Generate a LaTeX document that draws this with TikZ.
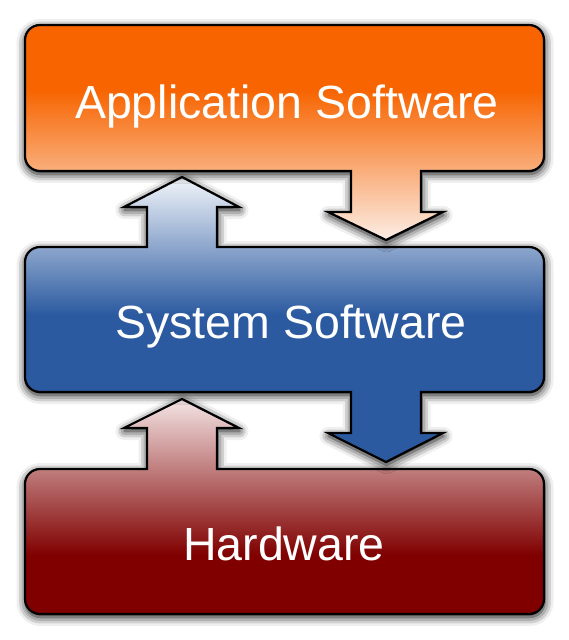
\documentclass[tikz,border=0pt]{standalone}
\usepackage{fontspec}
\setmainfont{Liberation Sans}
\usetikzlibrary{shadows.blur}

\definecolor{apporange}{RGB}{247,100,0}
\definecolor{appfade}{RGB}{252,238,230}
\definecolor{sysblue}{RGB}{43,90,160}
\definecolor{sysfade}{RGB}{242,245,250}
\definecolor{hwred}{RGB}{128,0,0}
\definecolor{hwfade}{RGB}{244,228,228}

\pgfdeclareverticalshading{appshade}{100bp}{color(0bp)=(appfade); color(25bp)=(appfade); color(59.9bp)=(apporange); color(100bp)=(apporange)}
\pgfdeclareverticalshading{sysshade}{100bp}{color(0bp)=(sysblue); color(50.8bp)=(sysblue); color(75bp)=(sysfade); color(100bp)=(sysfade)}
\pgfdeclareverticalshading{hwshade}{100bp}{color(0bp)=(hwred); color(38.7bp)=(hwred); color(75bp)=(hwfade); color(100bp)=(hwfade)}

\tikzset{
 layer/.style={draw=black, shade, line width=2.2pt, blur shadow={shadow xshift=0.5pt, shadow yshift=-3pt, shadow blur radius=9pt, shadow opacity=100}},
 caption/.style={text=white, font=\fontsize{46.5}{50}\selectfont, anchor=base, inner sep=0pt}
}

\begin{document}
\begin{tikzpicture}[x=1pt, y=-1pt]
 \useasboundingbox (0,0) rectangle (569,640);

 \path[layer, shading=hwshade] (300,469) [rounded corners=15pt] -- (544,469) -- (544,614) -- (25,614) -- (25,469) -- (100,469)
  [sharp corners] -- (147,469) -- (147,428) -- (124,428) -- (182,399) -- (239,428) -- (217,428) -- (217,469) -- cycle;

 \path[layer, shading=sysshade] (300,247) [rounded corners=15pt] -- (544,247) -- (544,392) -- (480,392)
  [sharp corners] -- (421,392) -- (421,433) -- (443,433) -- (386,462) -- (328,433) -- (351,433) -- (351,392) -- (300,392)
  [rounded corners=15pt] -- (25,392) -- (25,247) -- (100,247)
  [sharp corners] -- (147,247) -- (147,207) -- (124,207) -- (182,177) -- (239,207) -- (217,207) -- (217,247) -- cycle;

 \path[layer, shading=appshade] (480,171) [rounded corners=15pt] -- (544,171) -- (544,25) -- (25,25) -- (25,171) -- (300,171)
  [sharp corners] -- (351,171) -- (351,212) -- (328,212) -- (386,240) -- (443,212) -- (421,212) -- (421,171) -- cycle;

 \node[caption] (app) at (287,118) {Application Software};
 \node[caption] (sys) at (291,338) {System Software};
 \node[caption] (hw) at (284,560) {Hardware};
\end{tikzpicture}
\end{document}
